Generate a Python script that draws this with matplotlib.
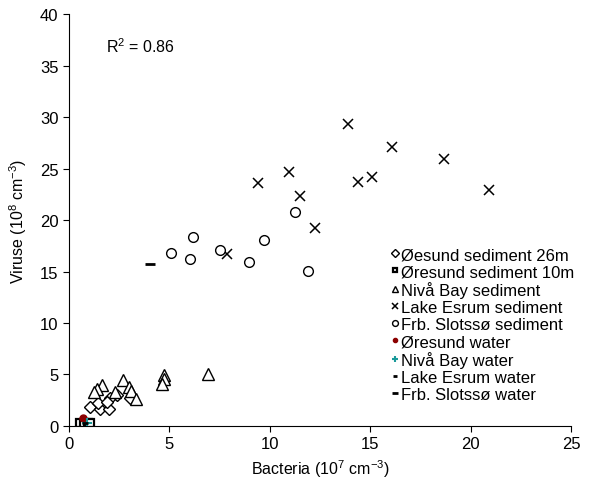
import matplotlib.pyplot as plt

plt.rcParams["font.family"] = ["Liberation Sans", "DejaVu Sans"]
plt.rcParams["mathtext.fontset"] = "custom"
plt.rcParams["mathtext.rm"] = "Liberation Sans"
plt.rcParams["mathtext.it"] = "Liberation Sans:italic"

# Øresund sediment 26m (diamonds)
ore26_x = [1.04, 1.53, 1.98, 1.45, 2.06, 2.39, 3.05, 1.9]
ore26_y = [1.81, 1.62, 1.62, 2.2, 2.75, 3.0, 2.75, 2.36]
# Øresund sediment 10m (squares)
ore10_x = [0.55, 0.75, 0.95, 1.05]
ore10_y = [0.25, 0.25, 0.25, 0.25]
# Nivå Bay sediment (triangles)
niva_x = [6.90, 4.75, 4.74, 4.65, 2.69, 2.97, 3.09, 3.35, 1.62, 1.40, 1.24, 2.31]
niva_y = [5.05, 4.95, 4.56, 4.08, 4.47, 3.82, 3.40, 2.59, 3.98, 3.59, 3.27, 3.27]
# Lake Esrum sediment (crosses)
esrum_x = [13.88, 16.09, 18.65, 10.94, 14.39, 15.07, 9.39, 11.50, 20.91, 12.24, 7.89]
esrum_y = [29.29, 27.12, 25.92, 24.69, 23.66, 24.21, 23.56, 22.36, 22.94, 19.19, 16.67]
# Frb. Slotssø sediment (circles)
frb_x = [11.24, 6.16, 9.72, 7.54, 5.07, 6.02, 8.98, 11.88]
frb_y = [20.74, 18.38, 18.03, 17.09, 16.8, 16.21, 15.89, 15.02]
# water samples
ore_water_x, ore_water_y = [0.71], [0.74]
niva_water_x, niva_water_y = [0.91], [0.32]
esrum_water_x, esrum_water_y = [0.8], [0.3]
frb_water_x, frb_water_y = [4.01], [15.7]

fig = plt.figure(figsize=(6.02, 4.85), dpi=100)
ax = fig.add_axes([0.1146, 0.1196, 0.834, 0.8494])

open_kw = dict(linestyle="none", mfc="white", mec="black", mew=1.0)
ax.plot(ore26_x, ore26_y, "D", ms=6.5, label="Øesund sediment 26m", **open_kw)
ax.plot(ore10_x, ore10_y, "s", ms=6, label="Øresund sediment 10m",
        linestyle="none", mfc="white", mec="black", mew=1.6)
ax.plot(niva_x, niva_y, "^", ms=8, label="Nivå Bay sediment", **open_kw)
ax.plot(esrum_x, esrum_y, "x", ms=7.5, color="black", mew=1.1,
        linestyle="none", label="Lake Esrum sediment")
ax.plot(frb_x, frb_y, "o", ms=7, label="Frb. Slotssø sediment", **open_kw)
ax.plot(ore_water_x, ore_water_y, "o", ms=5, color="#8b0000",
        linestyle="none", label="Øresund water")
ax.plot(niva_water_x, niva_water_y, "+", ms=7, color="#1a9a9a", mew=1.5,
        linestyle="none", label="Nivå Bay water")
ax.plot(esrum_water_x, esrum_water_y, "_", ms=4, color="black", mew=2,
        linestyle="none", label="Lake Esrum water")
ax.plot(frb_water_x, frb_water_y, "_", ms=7, color="black", mew=2,
        linestyle="none", label="Frb. Slotssø water")

ax.set_xlim(0, 25)
ax.set_ylim(0, 40)
ax.set_xticks(range(0, 26, 5))
ax.set_yticks(range(0, 41, 5))
ax.spines["top"].set_visible(False)
ax.spines["right"].set_visible(False)
ax.tick_params(labelsize=12, direction="out", length=4)
ax.set_xlabel("Bacteria (10$^{7}$ cm$^{-3}$)", fontsize=11.5)
ax.set_ylabel("Viruse (10$^{8}$ cm$^{-3}$)", fontsize=11.5, labelpad=8)
ax.text(1.85, 36.9, "R$^{2}$ = 0.86", fontsize=11.5, va="center")

leg = ax.legend(loc="upper left", bbox_to_anchor=(0.627, 0.45), frameon=False,
                fontsize=12, handlelength=0.5, handletextpad=0.15,
                labelspacing=0.12, markerscale=0.6, borderaxespad=0)

fig.savefig("out.png", dpi=100)
